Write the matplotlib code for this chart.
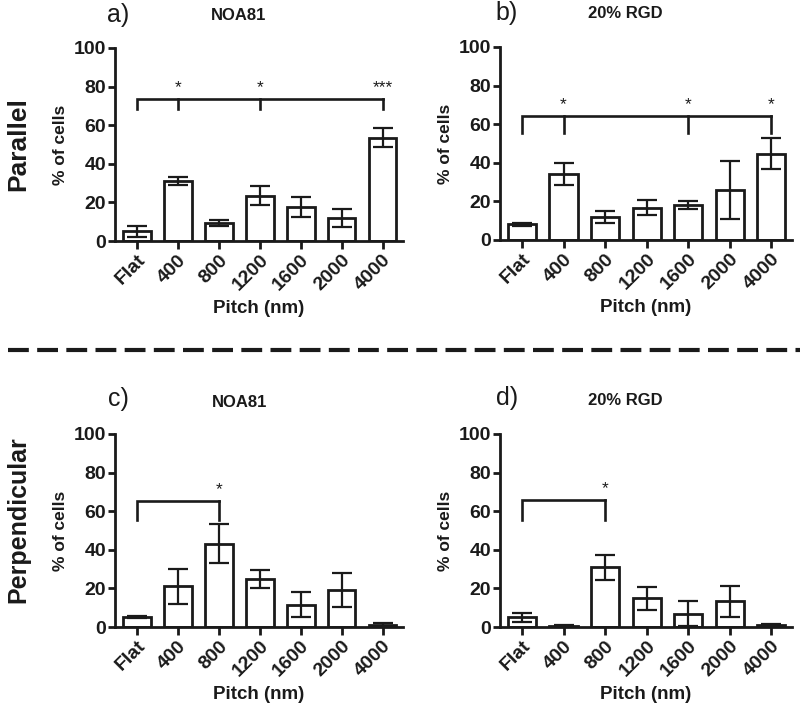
import matplotlib
matplotlib.use("Agg")
import matplotlib.pyplot as plt
from matplotlib.lines import Line2D
import numpy as np

plt.rcParams['font.family'] = ['Liberation Sans', 'DejaVu Sans']

categories = ["Flat", "400", "800", "1200", "1600", "2000", "4000"]

a_vals = [5.0, 31.2, 9.5, 23.5, 17.8, 11.8, 53.6]
a_errs = [3.0, 2.0, 1.5, 4.8, 5.2, 4.7, 5.1]
b_vals = [8.1, 34.0, 11.9, 16.8, 18.0, 25.9, 44.8]
b_errs = [0.8, 5.7, 3.2, 3.8, 2.0, 15.0, 8.1]
c_vals = [5.4, 21.1, 43.2, 25.0, 11.6, 19.2, 0.9]
c_errs = [0.5, 9.0, 10.0, 4.7, 6.5, 8.6, 1.0]
d_vals = [5.0, 0.7, 30.9, 14.9, 6.9, 13.3, 1.0]
d_errs = [2.3, 0.4, 6.5, 6.0, 6.6, 8.1, 0.8]

# significance brackets: (bracket height, tick bottom, [target indices], [star labels])
a_sig = (73.5, 68.5, [1, 3, 6], ["*", "*", "***"])
b_sig = (64.0, 55.5, [1, 4, 6], ["*", "*", "*"])
c_sig = (65.5, 55.5, [2], ["*"])
d_sig = (66.0, 55.5, [2], ["*"])

W, H = 800, 704
fig = plt.figure(figsize=(W / 100, H / 100), dpi=100)

def ax_rect(left, right, top, bottom):
    return [left / W, 1 - bottom / H, (right - left) / W, (bottom - top) / H]

panels = [
    (ax_rect(115, 403, 48, 241), a_vals, a_errs, a_sig),
    (ax_rect(500, 792, 47, 240), b_vals, b_errs, b_sig),
    (ax_rect(115, 403, 434, 627), c_vals, c_errs, c_sig),
    (ax_rect(500, 792, 434, 627), d_vals, d_errs, d_sig),
]

ink = "#1a1a1a"
lw = 2.0
for rect, vals, errs, sig in panels:
    ax = fig.add_axes(rect)
    x = np.arange(len(categories))
    ax.bar(x, vals, width=0.68, color="white", edgecolor=ink, linewidth=lw, zorder=2)
    ax.errorbar(x, vals, yerr=errs, fmt="none", ecolor=ink, elinewidth=1.6,
                capsize=7, capthick=1.6, zorder=3)
    ax.set_xlim(-0.53, 6.5)
    ax.set_ylim(0, 100)
    ax.set_yticks([0, 20, 40, 60, 80, 100])
    ax.set_xticks(x)
    ax.set_xticklabels(categories, rotation=45, ha="right", rotation_mode="anchor",
                       fontsize=14, fontweight="bold", color=ink)
    for lab in ax.get_yticklabels():
        lab.set_fontsize(14)
        lab.set_fontweight("bold")
        lab.set_color(ink)
    for s in ["top", "right"]:
        ax.spines[s].set_visible(False)
    for s in ["left", "bottom"]:
        ax.spines[s].set_linewidth(lw)
        ax.spines[s].set_color(ink)
    ax.tick_params(axis="both", direction="out", width=lw, length=5, color=ink, pad=1.5)
    ax.tick_params(axis="x", length=6)
    ax.set_ylabel("% of cells", fontsize=12.5, fontweight="bold", color=ink, labelpad=4)
    ax.set_xlabel("Pitch (nm)", fontsize=13.5, fontweight="bold", color=ink, labelpad=4)
    # bracket
    hy, low, idxs, stars = sig
    last = max(idxs)
    ax.plot([0, 0, last], [low, hy, hy], color=ink, lw=1.9, solid_joinstyle="miter", zorder=4)
    for i, st in zip(idxs, stars):
        ax.plot([i, i], [hy, low], color=ink, lw=1.9, zorder=4)
        ax.text(i, hy + 2.0, st, ha="center", va="bottom", fontsize=12.5, color=ink)
    ax.patch.set_alpha(0)

# panel letters and titles
def ftext(xp, yp, s, **kw):
    fig.text(xp / W, 1 - yp / H, s, **kw)

ftext(118, 15, "a)", fontsize=18, ha="center", va="center", color=ink)
ftext(239, 16, "NOA81", fontsize=12, fontweight="bold", ha="center", va="center", color=ink)
ftext(507, 13, "b)", fontsize=18, ha="center", va="center", color=ink)
ftext(625, 13, "20% RGD", fontsize=12, fontweight="bold", ha="center", va="center", color=ink)
ftext(118, 399, "c)", fontsize=18, ha="center", va="center", color=ink)
ftext(240, 403, "NOA81", fontsize=12, fontweight="bold", ha="center", va="center", color=ink)
ftext(507, 398, "d)", fontsize=18, ha="center", va="center", color=ink)
ftext(625, 400, "20% RGD", fontsize=12, fontweight="bold", ha="center", va="center", color=ink)

ftext(18, 144, "Parallel", fontsize=19, fontweight="bold", rotation=90, ha="center", va="center", color=ink)
ftext(18, 520, "Perpendicular", fontsize=18, fontweight="bold", rotation=90, ha="center", va="center", color=ink)

# dashed separator
fig.add_artist(Line2D([8 / W, 1.0], [1 - 350 / H, 1 - 350 / H], transform=fig.transFigure,
                      color=ink, lw=3.0, linestyle=(0, (5, 2))))

fig.savefig("out.png", dpi=100)
